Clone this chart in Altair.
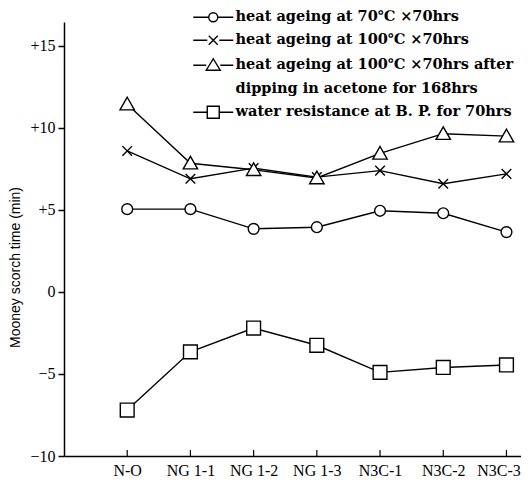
import json
import altair as alt
import pandas as pd

categories = ["N-O", "NG 1-1", "NG 1-2", "NG 1-3", "N3C-1", "N3C-2", "N3C-3"]
heat_70 = [5.05, 5.05, 3.85, 3.95, 4.95, 4.8, 3.65]
heat_100 = [8.6, 6.9, 7.55, 7.0, 7.4, 6.6, 7.2]
heat_100_acetone = [11.45, 7.85, 7.45, 6.95, 8.45, 9.65, 9.5]
water_bp = [-7.2, -3.65, -2.2, -3.25, -4.9, -4.6, -4.45]

series_names = ["heat70", "heat100", "acetone", "water"]
legend_labels = [
    "heat ageing at 70℃ ×70hrs",
    "heat ageing at 100℃ ×70hrs",
    "heat ageing at 100℃ ×70hrs after",
    "dipping in acetone for 168hrs",
    "water resistance at B. P. for 70hrs",
]
y_ticks = [-10, -5, 0, 5, 10, 15]

rows = []
for name, vals in zip(series_names, [heat_70, heat_100, heat_100_acetone, water_bp]):
    for i, (c, v) in enumerate(zip(categories, vals)):
        rows.append({"series": name, "idx": i, "cat": c, "value": v})
df = pd.DataFrame(rows)

point_paths = [
    "M-0.9,0A0.9,0.9,0,1,0,0.9,0A0.9,0.9,0,1,0,-0.9,0",
    "M-0.8,-0.8L0.8,0.8M-0.8,0.8L0.8,-0.8",
    "M0,-1.15L1.2,0.95L-1.2,0.95Z",
    "M-1.15,-1.15H1.15V1.15H-1.15Z",
]
legend_paths = [
    "M-4,0H-1M1,0H4M-0.9,0A0.9,0.9,0,1,0,0.9,0A0.9,0.9,0,1,0,-0.9,0",
    "M-4,0H-1.2M1.2,0H4M-0.9,-0.9L0.9,0.9M-0.9,0.9L0.9,-0.9",
    "M-4,0H-1.4M1.4,0H4M0,-1.3L1.4,1L-1.4,1Z",
    "M0,0Z",
    "M-4,0H-1.2M1.2,0H4M-1.2,-1.2H1.2V1.2H-1.2Z",
]

W, H = 457, 434
xscale = alt.Scale(domain=[-1, 6.23], nice=False, zero=False)
yscale = alt.Scale(domain=[-10, 16.46], nice=False, zero=False)

last = len(categories) - 1
xaxis = alt.Axis(
    values=list(range(len(categories))),
    labelExpr=json.dumps(categories) + "[datum.value]",
    labelOffset={"condition": {"test": "datum.value == " + str(last), "value": -8}, "value": 0},
    ticks=False, grid=False, title=None,
)
yaxis = alt.Axis(
    values=y_ticks,
    labelExpr="datum.value > 0 ? '+' + datum.value : (datum.value < 0 ? '−' + abs(datum.value) : '0')",
    grid=False,
    title="Mooney scorch time (min)",
)

base = alt.Chart(df)

lines = base.mark_line(color="black", strokeWidth=1.4).encode(
    x=alt.X("idx:Q", scale=xscale, axis=xaxis),
    y=alt.Y("value:Q", scale=yscale, axis=yaxis),
    detail="series:N",
)

points = base.mark_point(filled=True, fill="white", stroke="black", strokeWidth=1.4,
                         size=144, opacity=1).encode(
    x=alt.X("idx:Q", scale=xscale, axis=xaxis),
    y=alt.Y("value:Q", scale=yscale, axis=yaxis),
    shape=alt.Shape("series:N", scale=alt.Scale(domain=series_names, range=point_paths), legend=None),
)

legend_layer = alt.Chart(pd.DataFrame({"leg": legend_labels})).transform_filter(
    "datum.leg == 'none'"
).mark_point(filled=False, color="black", strokeWidth=1.4, opacity=1).encode(
    shape=alt.Shape(
        "leg:N",
        scale=alt.Scale(domain=legend_labels, range=legend_paths),
        legend=alt.Legend(
            orient="none", legendX=142, legendY=-12, title=None, padding=0,
            symbolSize=100, symbolStrokeColor="black",
            symbolStrokeWidth=1.4, symbolOffset=0, symbolOpacity=1,
            labelFont="DejaVu Serif", labelFontSize=14.5, labelFontWeight="bold",
            labelColor="black", labelOffset=15, labelLimit=0, rowPadding=7,
        ),
    )
)

xticks = alt.Chart(pd.DataFrame({"idx": list(range(len(categories)))})).mark_rule(
    color="black", strokeWidth=1.2
).encode(
    x=alt.X("idx:Q", scale=xscale, axis=xaxis),
    y=alt.value(H - 6),
    y2=alt.value(H),
)

chart = alt.layer(lines, xticks, points, legend_layer).resolve_scale(
    shape="independent"
).properties(
    width=W, height=H,
    autosize=alt.AutoSizeParams(type="none"),
    padding={"left": 56, "top": 14, "right": 0, "bottom": 26},
    background="white",
).configure_view(
    stroke=None
).configure_axisX(
    domainColor="black", domainWidth=1.5, tickSize=0,
    labelFont="Liberation Serif", labelFontSize=16, labelColor="black",
    labelPadding=6, labelOverlap=False, labelFlush=False,
).configure_axisY(
    tickSize=6, tickColor="black", tickWidth=1.5,
    domainColor="black", domainWidth=1.5,
    titleFont="Liberation Sans", titleFontSize=14,
    titleFontWeight="normal", titleColor="black", titleAngle=270, titleX=-49, titleY=245,
    titleAlign="center", titleBaseline="middle",
    labelFont="Liberation Serif", labelFontSize=16, labelColor="black", labelPadding=3,
)

chart.save("out.html", embed_options={"renderer": "svg", "actions": False})
